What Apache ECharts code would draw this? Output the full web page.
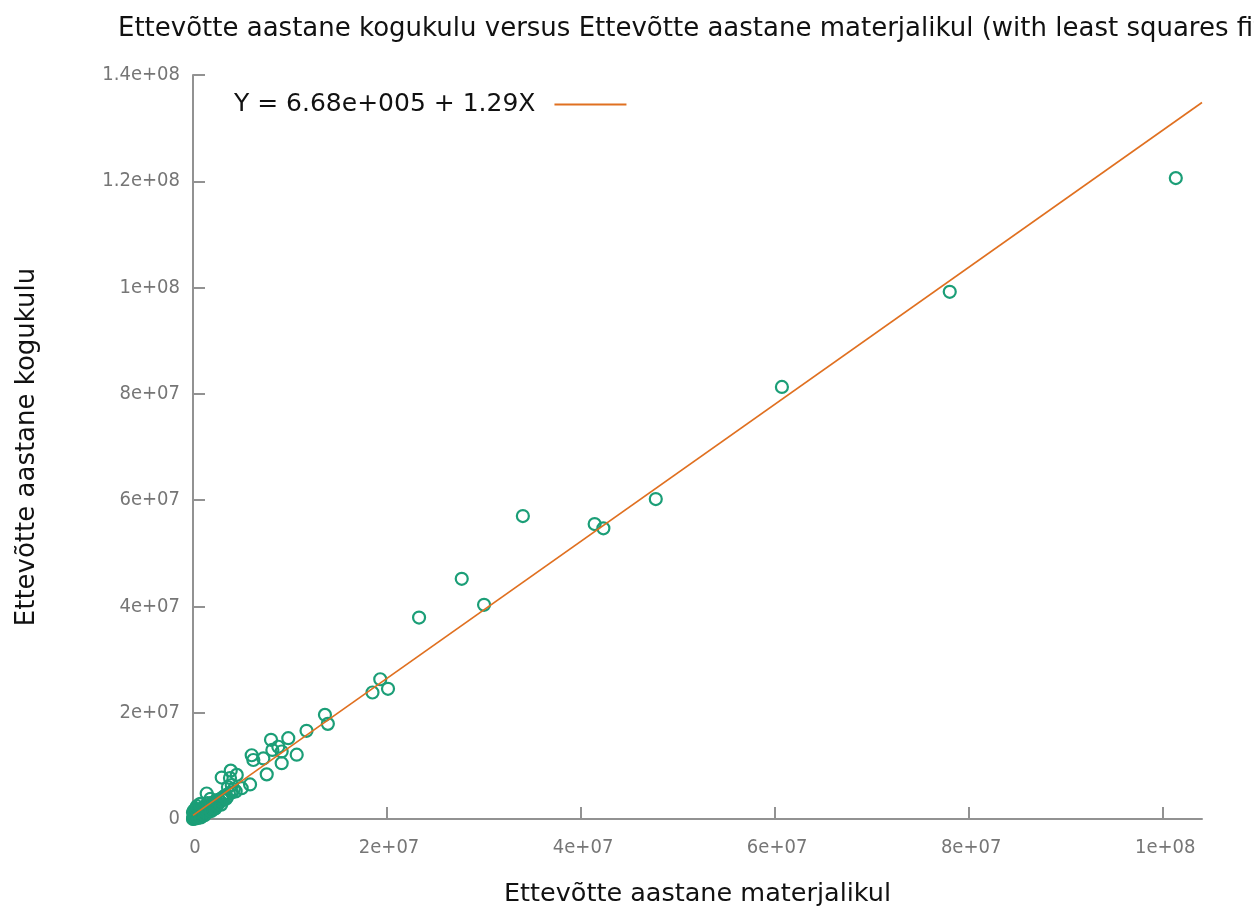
<!DOCTYPE html>
<html>
<head>
<meta charset="utf-8">
<script src="https://cdn.jsdelivr.net/npm/echarts@6/dist/echarts.min.js"></script>
<style>
html,body{margin:0;padding:0;background:#fff;}
#chart{width:1254px;height:908px;}
</style>
</head>
<body>
<div id="chart"></div>
<script>
// Ettevõtte aastane materjalikul (x) and Ettevõtte aastane kogukulu (y)
const matX = [
  101.3e6, 78.0e6, 60.7e6, 47.7e6, 41.4e6, 42.3e6, 34.0e6, 30.0e6, 27.7e6, 23.3e6,
  19.3e6, 18.5e6, 20.1e6, 13.6e6, 13.9e6, 11.7e6,
  8.04e6, 9.82e6, 8.79e6, 8.18e6, 9.14e6, 10.69e6, 6.05e6, 6.22e6, 7.25e6, 9.14e6,
  7.60e6, 2.96e6, 3.81e6, 4.51e6, 5.88e6, 3.99e6, 5.02e6, 1.41e6, 3.89e6,
  0.0e6, 0.02e6, 0.05e6, 0.05e6, 0.1e6, 0.1e6, 0.15e6, 0.2e6, 0.25e6, 0.3e6, 0.3e6,
  0.35e6, 0.4e6, 0.5e6, 0.55e6, 0.6e6, 0.6e6, 0.7e6, 0.8e6, 0.9e6, 1.0e6, 1.1e6,
  1.2e6, 1.3e6, 1.4e6, 1.5e6, 1.6e6, 1.8e6, 1.9e6, 2.0e6, 2.1e6, 2.3e6, 2.4e6,
  2.6e6, 2.8e6, 3.0e6, 3.1e6, 3.3e6, 3.5e6, 3.7e6, 4.0e6, 4.2e6,
  0.45e6, 0.75e6, 1.05e6, 1.35e6, 1.7e6, 2.2e6, 2.5e6, 2.7e6, 3.2e6, 3.4e6, 1.0e6, 0.2e6,
  0.0e6, 0.1e6, 0.3e6, 0.5e6, 0.8e6, 1.2e6, 1.5e6, 1.9e6, 2.3e6, 0.9e6, 1.8e6, 2.9e6,
  0.4e6, 0.7e6, 3.6e6, 4.4e6
];
const koguY = [
  120.6e6, 99.2e6, 81.3e6, 60.2e6, 55.5e6, 54.7e6, 57.0e6, 40.3e6, 45.2e6, 37.9e6,
  26.3e6, 23.8e6, 24.5e6, 19.6e6, 17.9e6, 16.6e6,
  14.9e6, 15.2e6, 13.6e6, 13.0e6, 12.7e6, 12.1e6, 12.0e6, 11.1e6, 11.4e6, 10.5e6,
  8.4e6, 7.8e6, 7.7e6, 8.3e6, 6.5e6, 6.4e6, 5.8e6, 4.8e6, 9.1e6,
  0.0e6, 0.1e6, 0.3e6, 0.05e6, 0.2e6, 0.5e6, 0.4e6, 0.8e6, 0.3e6, 0.6e6, 0.1e6,
  1.0e6, 0.7e6, 0.9e6, 1.3e6, 0.8e6, 0.4e6, 1.2e6, 1.5e6, 1.1e6, 1.6e6, 2.0e6,
  1.4e6, 1.9e6, 2.3e6, 1.8e6, 2.5e6, 2.2e6, 2.8e6, 3.1e6, 2.4e6, 3.3e6, 2.9e6,
  3.6e6, 3.2e6, 4.0e6, 3.6e6, 4.4e6, 4.1e6, 4.8e6, 5.0e6, 5.6e6,
  0.4e6, 0.6e6, 0.9e6, 1.3e6, 1.6e6, 2.0e6, 2.6e6, 3.5e6, 3.9e6, 3.8e6, 2.1e6, 1.2e6,
  1.2e6, 1.6e6, 1.9e6, 0.2e6, 0.3e6, 0.7e6, 3.0e6, 1.5e6, 2.0e6, 2.9e6, 3.8e6, 2.7e6,
  2.4e6, 2.8e6, 6.0e6, 5.2e6
];
// least squares fit from the legend: Y = 6.68e+005 + 1.29X
const fitCoef = [6.68e5, 1.29];
const fitXRange = [0, 1.04e8];
const fitName = 'Y = 6.68e+005 + 1.29X';

const xTickValues = [0, 2e7, 4e7, 6e7, 8e7, 1e8];
const xTickLabels = ['0', '2e+07', '4e+07', '6e+07', '8e+07', '1e+08'];
const yTickValues = [0, 2e7, 4e7, 6e7, 8e7, 1e8, 1.2e8, 1.4e8];
const yTickLabels = ['0', '2e+07', '4e+07', '6e+07', '8e+07', '1e+08', '1.2e+08', '1.4e+08'];

const titleText = 'Ettevõtte aastane kogukulu versus Ettevõtte aastane materjalikul (with least squares fit)';
const xName = 'Ettevõtte aastane materjalikul';
const yName = 'Ettevõtte aastane kogukulu';

const pts = matX.map((x, i) => [x, koguY[i]]);
const fitLine = fitXRange.map(x => [x, fitCoef[0] + fitCoef[1] * x]);

function lab(values, labels) {
  return v => {
    const i = values.findIndex(t => Math.abs(t - v) < 1);
    return i >= 0 ? labels[i] : '';
  };
}

const FONT = 'DejaVu Sans';
const TICKFONT = '"DejaVu Sans Condensed", "DejaVu Sans"';
const axisGray = '#929292';
const labelGray = '#767676';

const chart = echarts.init(document.getElementById('chart'), null, {renderer: 'canvas'});
chart.setOption({
  animation: false,
  backgroundColor: '#fff',
  textStyle: {fontFamily: FONT},
  title: {
    text: titleText,
    left: 113, top: 11,
    textStyle: {fontFamily: FONT, fontSize: 26, fontWeight: 'normal', color: '#111'}
  },
  legend: {
    data: [fitName],
    left: 229, top: 87,
    align: 'right',
    icon: 'rect',
    itemWidth: 72, itemHeight: 2,
    textStyle: {fontFamily: FONT, fontSize: 25, color: '#111', padding: [0, 14, 0, 0]}
  },
  grid: {left: 193, right: 52, top: 75, bottom: 89, containLabel: false, outerBoundsMode: 'none'},
  xAxis: {
    type: 'value',
    min: 0, max: 1.04e8,
    name: xName,
    nameLocation: 'middle',
    nameGap: 62,
    nameTextStyle: {fontFamily: FONT, fontSize: 25.5, color: '#111'},
    axisLine: {show: true, lineStyle: {color: axisGray, width: 2}},
    axisTick: {show: true, inside: true, length: 12, customValues: xTickValues, lineStyle: {color: axisGray, width: 2}},
    axisLabel: {customValues: xTickValues, formatter: lab(xTickValues, xTickLabels), color: labelGray, fontSize: 20, margin: 19, padding: [0, 0, 0, 4], fontFamily: TICKFONT},
    splitLine: {show: false}
  },
  yAxis: {
    type: 'value',
    min: 0, max: 1.4e8, interval: 2e7,
    name: yName,
    nameLocation: 'middle',
    nameGap: 153,
    nameRotate: 90,
    nameTextStyle: {fontFamily: FONT, fontSize: 26, color: '#111'},
    axisLine: {show: true, lineStyle: {color: axisGray, width: 2}},
    axisTick: {show: true, inside: true, length: 12, lineStyle: {color: axisGray, width: 2}},
    axisLabel: {formatter: lab(yTickValues, yTickLabels), color: labelGray, fontSize: 20, margin: 13, fontFamily: TICKFONT},
    splitLine: {show: false}
  },
  series: [
    {
      name: 'data',
      type: 'scatter',
      data: pts,
      symbol: 'circle',
      symbolSize: 12,
      clip: false,
      itemStyle: {color: 'rgba(255,255,255,0)', borderColor: '#1b9e77', borderWidth: 2.2, opacity: 1}
    },
    {
      name: fitName,
      type: 'line',
      data: fitLine,
      symbol: 'none',
      clip: false,
      lineStyle: {color: '#e07020', width: 1.6},
      itemStyle: {color: '#e07020'},
      z: 3
    }
  ]
});
</script>
</body>
</html>
